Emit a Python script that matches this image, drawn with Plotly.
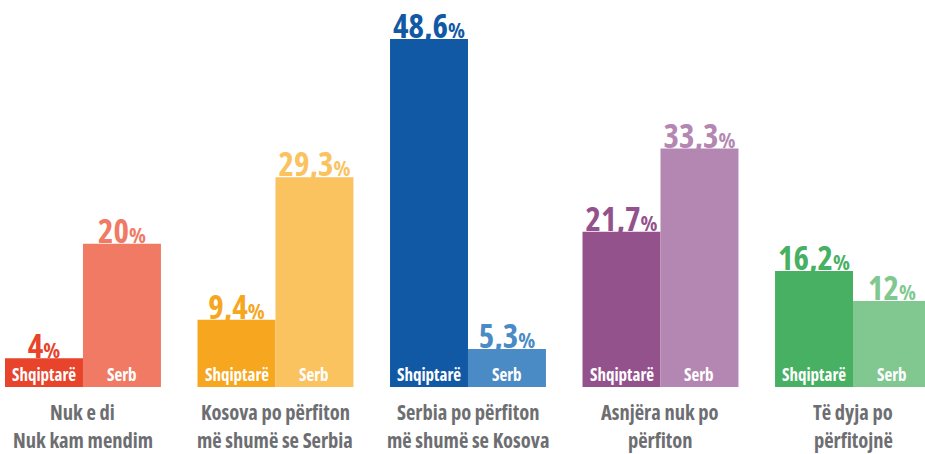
import plotly.graph_objects as go

categories = ["Nuk e di<br>Nuk kam mendim", "Kosova po përfiton<br>më shumë se Serbia",
              "Serbia po përfiton<br>më shumë se Kosova", "Asnjëra nuk po<br>përfiton",
              "Të dyja po<br>përfitojnë"]
shqiptare = [4, 9.4, 48.6, 21.7, 16.2]
serb = [20, 29.3, 5.3, 33.3, 12]
shq_labels = ["4", "9,4", "48,6", "21,7", "16,2"]
serb_labels = ["20", "29,3", "5,3", "33,3", "12"]
series_names = ["Shqiptarë", "Serb"]
shq_colors = ["#e8432b", "#f6a61f", "#1259a5", "#94528d", "#47b063"]
serb_colors = ["#f07a63", "#fbc260", "#4a8ac5", "#b487b3", "#80c890"]

FONT = "Open Sans, DejaVu Sans, sans-serif"
ST = "font-stretch:condensed"
BW = 0.405
XR = [-0.431, 4.374]
YR = [0, 54.05]
TXT_OFF = 1.05

xs = list(range(len(categories)))
x_shq = [x - BW / 2 for x in xs]
x_serb = [x + BW / 2 for x in xs]


def cond(t):
    return "<b><span style='%s'>%s</span></b>" % (ST, t)


def fmt(labels):
    return ["<b><span style='%s'>%s</span><span style='%s;font-size:22px'>%%</span></b>" % (ST, l, ST)
            for l in labels]


fig = go.Figure()
# value labels on base axes (drawn beneath bars)
fig.add_trace(go.Scatter(x=x_shq + x_serb,
                         y=[v - TXT_OFF for v in shqiptare + serb],
                         mode="text", text=fmt(shq_labels) + fmt(serb_labels),
                         textposition="top center",
                         textfont=dict(family=FONT, size=33, color=shq_colors + serb_colors),
                         hoverinfo="skip", showlegend=False))
# bars on overlay axes
fig.add_trace(go.Bar(x=xs, y=shqiptare, name=series_names[0], marker=dict(color=shq_colors, line=dict(width=0)),
                     xaxis="x2", yaxis="y2", offset=-BW, width=BW, hoverinfo="skip"))
fig.add_trace(go.Bar(x=xs, y=serb, name=series_names[1], marker=dict(color=serb_colors, line=dict(width=0)),
                     xaxis="x2", yaxis="y2", offset=0, width=BW, hoverinfo="skip"))

annotations = []
for i in xs:
    for xpos, name in ((x_shq[i], series_names[0]), (x_serb[i], series_names[1])):
        annotations.append(dict(x=xpos, y=0, xref="x", yref="y", text=cond(name),
                                showarrow=False, yanchor="bottom", yshift=0, borderpad=0,
                                font=dict(family=FONT, size=17, color="white")))
    for k, part in enumerate(categories[i].split("<br>")):
        annotations.append(dict(x=i, y=0, xref="x", yref="paper", text=cond(part),
                                showarrow=False, yanchor="top", yshift=-10 - 28 * k, borderpad=0,
                                font=dict(family=FONT, size=20.5, color="#6d6e71")))

ax = dict(range=XR, visible=False, fixedrange=True)
ay = dict(range=YR, visible=False, fixedrange=True)
fig.update_layout(
    width=925, height=454,
    margin=dict(l=0, r=0, t=0, b=67),
    paper_bgcolor="white", plot_bgcolor="white",
    showlegend=False,
    xaxis=ax, yaxis=ay,
    xaxis2=dict(ax, overlaying="x"), yaxis2=dict(ay, overlaying="y"),
    annotations=annotations,
)
fig.write_html("out.html", config={"displayModeBar": False},
               post_script="document.body.style.margin='0';document.body.style.overflow='hidden';")
